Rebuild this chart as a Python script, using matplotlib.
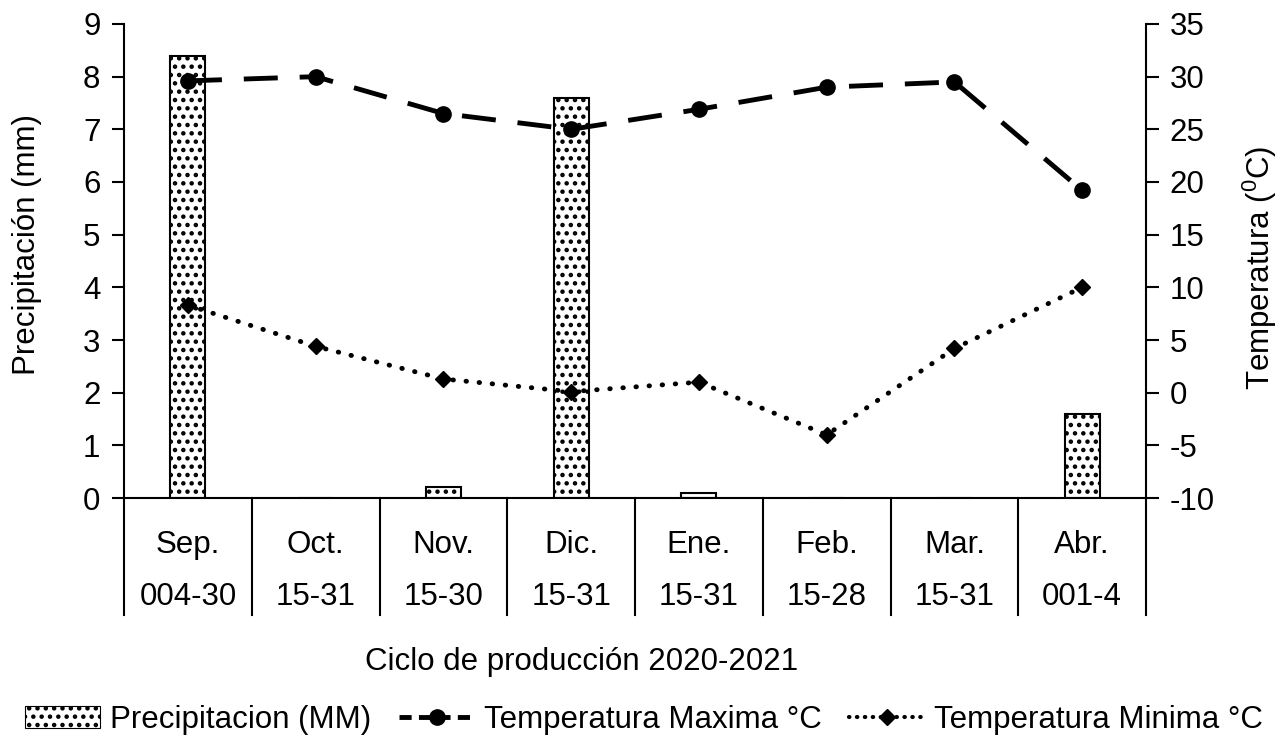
import matplotlib
matplotlib.use('Agg')
import matplotlib.pyplot as plt
from matplotlib.patches import Patch
from matplotlib.lines import Line2D
import numpy as np

plt.rcParams['font.family'] = ['Liberation Sans', 'DejaVu Sans']
plt.rcParams['mathtext.fontset'] = 'custom'
plt.rcParams['mathtext.rm'] = 'Liberation Sans'
plt.rcParams['axes.unicode_minus'] = False
plt.rcParams['hatch.linewidth'] = 2.0

# Monthly data for the production cycle
months = ['Sep.', 'Oct.', 'Nov.', 'Dic.', 'Ene.', 'Feb.', 'Mar.', 'Abr.']
day_ranges = ['004-30', '15-31', '15-30', '15-31', '15-31', '15-28', '15-31', '001-4']
precip = [8.4, 0.0, 0.2, 7.6, 0.1, 0.0, 0.0, 1.6]
temp_max = [29.6, 30.0, 26.5, 25.0, 26.9, 29.0, 29.5, 19.2]
temp_min = [8.3, 4.4, 1.3, 0.1, 1.0, -4.0, 4.2, 10.0]


def main():
    fig = plt.figure(figsize=(12.88, 7.47), dpi=100)
    ax = fig.add_axes([0.0963, 0.3333, 0.7935, 0.6346])
    ax2 = ax.twinx()

    x = np.arange(len(months))
    fs = 22.5

    # Precipitation bars
    ax.bar(x, precip, width=0.275, color='white', edgecolor='black',
           linewidth=1.5, hatch='..', zorder=2)
    ax.set_xlim(-0.5, len(months) - 0.5)
    ax.set_ylim(0, 9)
    ax.set_yticks(range(0, 10))
    ax.set_ylabel('Precipitación (mm)', fontsize=fs, va='center')
    ax.yaxis.set_label_coords(-0.095, 0.534)

    # Temperature lines
    ax2.plot(x, temp_max, color='black', linewidth=3.5, linestyle=(0, (7, 4.5)),
             marker='o', markersize=11, zorder=3)
    ax2.plot(x, temp_min, color='black', linewidth=3.5, linestyle=(0, (0.1, 2.6)),
             dash_capstyle='round', marker='D', markersize=8, zorder=3)
    ax2.set_ylim(-10, 35)
    ax2.set_yticks(range(-10, 36, 5))
    ax2.set_ylabel(r'Temperatura ($^0$C)', fontsize=fs, va='center')
    ax2.yaxis.set_label_coords(1.111, 0.485)

    for a in (ax, ax2):
        a.tick_params(axis='y', labelsize=fs, length=9, width=1.5, direction='out', pad=8)
        a.spines['top'].set_visible(False)
        for s in ('left', 'right', 'bottom'):
            a.spines[s].set_linewidth(1.5)
    ax.spines['right'].set_visible(False)
    ax2.spines['left'].set_visible(False)
    ax2.spines['bottom'].set_visible(False)

    # Category table under the axis
    ax.set_xticks([])
    trans = ax.get_xaxis_transform()
    for b in np.arange(-0.5, len(months), 1.0):
        ax.plot([b, b], [0, -0.247], transform=trans, color='black',
                linewidth=1.5, clip_on=False)
    for i in range(len(months)):
        ax.text(x[i], -0.099, months[i], transform=trans, ha='center',
                va='center', fontsize=fs)
        ax.text(x[i], -0.209, day_ranges[i], transform=trans, ha='center',
                va='center', fontsize=fs)

    fig.text(582 / 1288, 1 - 662 / 747, 'Ciclo de producción 2020-2021',
             ha='center', va='center', fontsize=fs)

    handles = [
        Patch(facecolor='white', edgecolor='black', hatch='..', linewidth=0.8),
        Line2D([], [], color='black', linewidth=3.5, linestyle=(0, (2.5, 1.5)),
               marker='o', markersize=11),
        Line2D([], [], color='black', linewidth=3, linestyle=(0, (0.1, 1.8)),
               dash_capstyle='round', marker='D', markersize=8),
    ]
    labels = ['Precipitacion (MM)', 'Temperatura Maxima °C', 'Temperatura Minima °C']
    fig.legend(handles, labels, loc='center', bbox_to_anchor=(0.5, 1 - 720 / 747),
               ncol=3, frameon=False, fontsize=fs, handlelength=2.4,
               handletextpad=0.3, columnspacing=0.9, borderaxespad=0,
               borderpad=0.1)

    fig.savefig('out.png', dpi=100)


if __name__ == "__main__":
    main()
